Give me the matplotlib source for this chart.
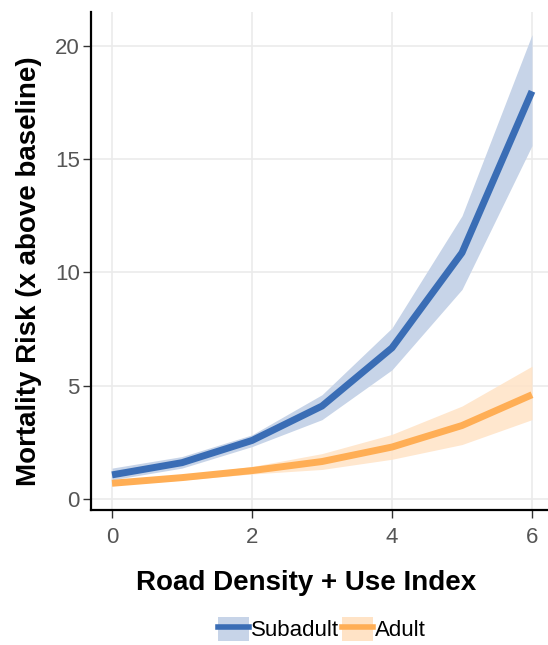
import numpy as np
import matplotlib
matplotlib.use("Agg")
import matplotlib.pyplot as plt
from matplotlib.patches import Patch
from matplotlib.lines import Line2D

plt.rcParams['font.family'] = ['Liberation Sans', 'DejaVu Sans']

# data
x = [0, 1, 2, 3, 4, 5, 6]
sub_mean = [1.06, 1.6, 2.58, 4.1, 6.67, 10.87, 18.0]
sub_low = [0.84, 1.36, 2.31, 3.5, 5.7, 9.25, 15.6]
sub_high = [1.36, 1.87, 2.83, 4.6, 7.55, 12.5, 20.5]
adult_mean = [0.69, 0.94, 1.25, 1.65, 2.29, 3.24, 4.6]
adult_low = [0.6, 0.83, 1.1, 1.3, 1.75, 2.4, 3.5]
adult_high = [0.8, 1.05, 1.43, 2.0, 2.85, 4.1, 5.86]

blue = '#3A6DB5'
orange = '#FFAE55'
blue_fill = '#C7D4E8'
orange_fill = '#FFE3C6'

W, H = 548, 645
fig = plt.figure(figsize=(W/100, H/100), dpi=100)
ax_l, ax_r, ax_t, ax_b = 91, 553, 12, 510
ax = fig.add_axes([ax_l/W, 1 - ax_b/H, (ax_r - ax_l)/W, (ax_b - ax_t)/H])

ax.fill_between(x, sub_low, sub_high, color=blue_fill, lw=0, zorder=2)
ax.fill_between(x, adult_low, adult_high, color=orange_fill, lw=0, alpha=0.85, zorder=2)
ax.plot(x, sub_mean, color=blue, lw=5, zorder=3, solid_capstyle='butt')
ax.plot(x, adult_mean, color=orange, lw=5, zorder=3, solid_capstyle='butt')

ax.set_xlim(-0.3, 6.3)
ax.set_ylim(-0.49, 21.5)
ax.set_xticks([0, 2, 4, 6])
ax.set_yticks([0, 5, 10, 15, 20])
ax.set_xticks([1, 3, 5], minor=True)
ax.set_yticks([2.5, 7.5, 12.5, 17.5], minor=True)
ax.grid(True, which='major', color='#EBEBEB', lw=1.2, zorder=0)
ax.tick_params(which='minor', length=0)
ax.tick_params(which='major', length=6, width=1, color='#333333',
               labelsize=16, labelcolor='#555555', pad=2)
ax.tick_params(axis='x', pad=6)
for s in ['top', 'right']:
    ax.spines[s].set_visible(False)
for s in ['left', 'bottom']:
    ax.spines[s].set_linewidth(1.6)
    ax.spines[s].set_color('black')
ax.set_axisbelow(True)

ax.set_xlabel('Road Density + Use Index', fontsize=20, fontweight='bold')
ax.set_ylabel('Mortality Risk (x above baseline)', fontsize=20, fontweight='bold')
# label anchors measured on the reference (pixels): x label top, y label right edge
ax.xaxis.set_label_coords((306 - ax_l)/(ax_r - ax_l), -(570 - ax_b)/(ax_b - ax_t))
ax.yaxis.set_label_coords(-(ax_l - 42)/(ax_r - ax_l), (ax_b - 271)/(ax_b - ax_t))

h_sub = (Patch(facecolor=blue_fill, edgecolor='none'), Line2D([], [], color=blue, lw=4))
h_ad = (Patch(facecolor=orange_fill, edgecolor='none'), Line2D([], [], color=orange, lw=4))
fig.legend([h_sub, h_ad], ['Subadult', 'Adult'], loc='center', bbox_to_anchor=(322/W, 1 - 629/H),
           ncol=2, frameon=False, fontsize=16, handlelength=1.4, handleheight=1.3,
           handletextpad=0.1, columnspacing=0.1)

fig.savefig('out.png', dpi=100)
